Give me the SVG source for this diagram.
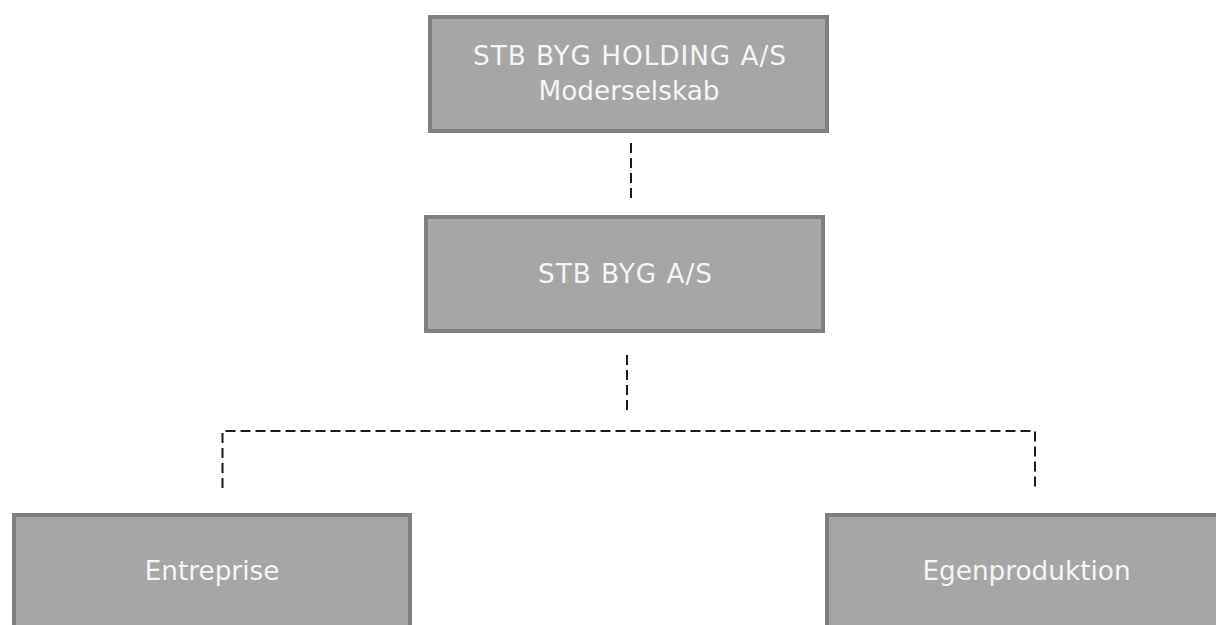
<svg xmlns="http://www.w3.org/2000/svg" width="1216" height="625" viewBox="0 0 1216 625">
<style>
.box{fill:#a6a6a6;stroke:#7f7f7f;stroke-width:4}
.lbl{font-family:"DejaVu Sans","Liberation Sans",sans-serif;font-size:26.3px;fill:#f4f4f4;text-anchor:middle}
.con{fill:none;stroke:#1a1a1a;stroke-width:2;stroke-dasharray:10 5}
</style>
<rect width="1216" height="625" fill="#ffffff"/>
<g id="connectors">
<line class="con" x1="631" y1="143" x2="631" y2="202"/>
<line class="con" x1="627" y1="355" x2="627" y2="412"/>
<path class="con" d="M222.5,488 V431 H1035 V488"/>
</g>
<g id="node-holding">
<rect class="box" x="430" y="17" width="397" height="114"/>
<text class="lbl" x="629.5" y="65" textLength="313" lengthAdjust="spacing">STB BYG HOLDING A/S</text>
<text class="lbl" x="629" y="100">Moderselskab</text>
</g>
<g id="node-stbbyg">
<rect class="box" x="426" y="217" width="397" height="114"/>
<text class="lbl" x="625" y="283" textLength="174" lengthAdjust="spacing">STB BYG A/S</text>
</g>
<g id="node-entreprise">
<rect class="box" x="14" y="515" width="396" height="114"/>
<text class="lbl" x="212" y="580">Entreprise</text>
</g>
<g id="node-egenproduktion">
<rect class="box" x="827" y="515" width="398" height="114"/>
<text class="lbl" x="1026.5" y="580">Egenproduktion</text>
</g>
</svg>
